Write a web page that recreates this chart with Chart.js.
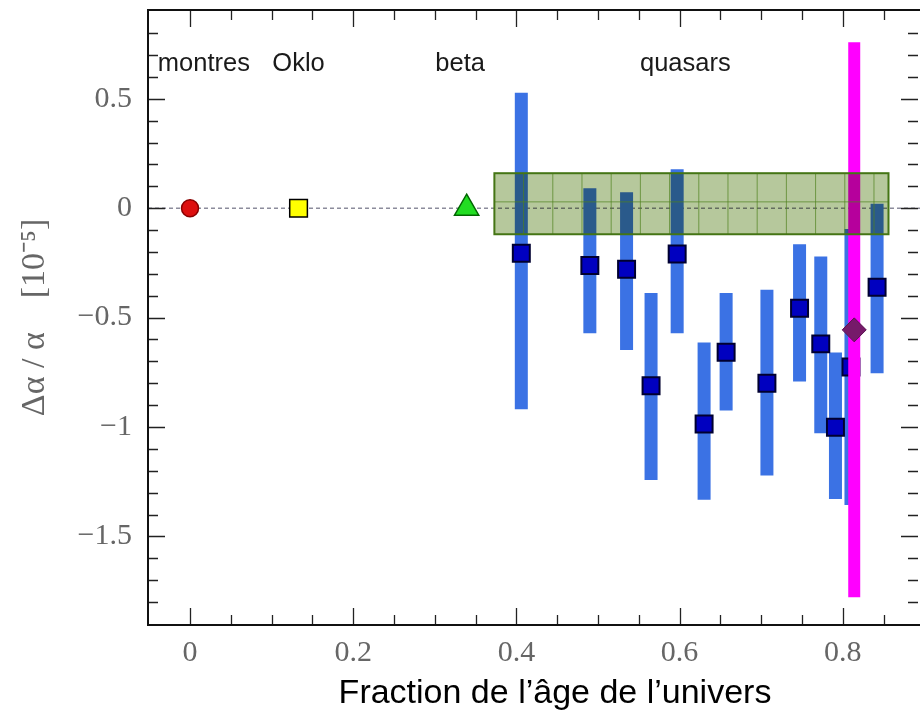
<!DOCTYPE html>
<html>
<head>
<meta charset="utf-8">
<script src="https://cdn.jsdelivr.net/npm/chart.js@4.4.1/dist/chart.umd.min.js"></script>
<style>
  html, body { margin: 0; padding: 0; background: #fff; }
</style>
</head>
<body>
<canvas id="chart" width="920" height="712"></canvas>
<script>
/* QUASARS: position, central value, error bar ends */
const quasarX = [0.406, 0.490, 0.535, 0.565, 0.597, 0.630, 0.657, 0.707, 0.747, 0.773, 0.791, 0.842];
const quasarY = [-0.206, -0.262, -0.279, -0.811, -0.209, -0.986, -0.658, -0.800, -0.457, -0.620, -1.001, -0.361];
const quasarHigh = [0.528, 0.091, 0.073, -0.388, 0.178, -0.614, -0.388, -0.373, -0.165, -0.221, -0.660, 0.020];
const quasarLow = [-0.919, -0.571, -0.648, -1.242, -0.571, -1.333, -0.925, -1.222, -0.792, -1.028, -1.329, -0.754];

/* quasar hidden behind the magenta bar */
const hiddenX = [0.810];
const hiddenY = [-0.726];
const hiddenHigh = [-0.095];
const hiddenLow = [-1.356];

/* magenta measurement */
const magentaX = [0.814];
const magentaY = [-0.556];
const magentaHigh = [0.759];
const magentaLow = [-1.778];

/* other methods, all at zero */
const clockX = [0];
const clockY = [0];
const okloX = [0.133];
const okloY = [0];
const betaX = [0.339];
const betaY = [0];

/* green band */
const bandX = [0.373, 0.856];
const bandY = [-0.119, 0.160];

/* texts */
const groupLabels = ["montres", "Oklo", "beta", "quasars"];
const groupLabelX = [0.017, 0.133, 0.331, 0.607];
const groupLabelY = 0.66;

const xTicks = [0, 0.2, 0.4, 0.6, 0.8];
const yTicks = [-1.5, -1, -0.5, 0, 0.5];
const xRange = [-0.0515, 0.8946];
const yRange = [-1.905, 0.906];

/* HELPERS */
const pts = (xs, ys) => xs.map((x, i) => ({ x, y: ys[i] }));
const barPts = (xs, lo, hi) =>
  xs.flatMap((x, i) => [{ x, y: lo[i] }, { x, y: hi[i] }, { x, y: null }]);
const minus = (v) => (v < 0 ? "\u2212" + Math.abs(v) : String(v));
const noPad = (s) => {
  s.paddingTop = 0;
  s.paddingBottom = 0;
  s.paddingLeft = 0;
  s.paddingRight = 0;
};

/* BAND: drawn right after the magenta bar */
const bandPlugin = {
  id: "band",
  afterDatasetDraw(chart, args) {
    if (chart.data.datasets[args.index].id !== "magentaBar") return;
    const { ctx } = chart;
    const xs = chart.scales.x, ys = chart.scales.y;
    const l = xs.getPixelForValue(bandX[0]);
    const r = xs.getPixelForValue(bandX[1]);
    const t = ys.getPixelForValue(bandY[1]);
    const b = ys.getPixelForValue(bandY[0]);
    ctx.save();
    ctx.globalCompositeOperation = "multiply";
    ctx.fillStyle = "#b6c89c";
    ctx.fillRect(l, t, r - l, b - t);
    ctx.globalCompositeOperation = "source-over";
    ctx.strokeStyle = "rgba(80,130,30,0.7)";
    ctx.lineWidth = 1;
    ctx.beginPath();
    for (let px = l + 29.2; px < r - 4; px += 29.2) {
      ctx.moveTo(px, t);
      ctx.lineTo(px, b);
    }
    const mid = ys.getPixelForValue(0.029);
    ctx.moveTo(l, mid);
    ctx.lineTo(r, mid);
    ctx.stroke();
    ctx.strokeStyle = "#447514";
    ctx.lineWidth = 2;
    ctx.strokeRect(l, t, r - l, b - t);
    ctx.restore();
  },
};

/* FRAME, TICKS, TEXTS */
const framePlugin = {
  id: "frame",
  afterDatasetsDraw(chart) {
    const { ctx, chartArea: a } = chart;
    const xs = chart.scales.x, ys = chart.scales.y;
    ctx.save();
    ctx.strokeStyle = "#222";
    ctx.lineWidth = 1.3;
    ctx.beginPath();
    for (let i = 0; i * 0.05 <= xRange[1] + 1e-9; i++) {
      const px = Math.round(xs.getPixelForValue(i * 0.05)) + 0.5;
      const len = i % 4 === 0 ? 17 : 10;
      ctx.moveTo(px, a.bottom);
      ctx.lineTo(px, a.bottom - len);
      ctx.moveTo(px, a.top);
      ctx.lineTo(px, a.top + len);
    }
    for (let i = -18; i <= 8; i++) {
      const py = Math.round(ys.getPixelForValue(i * 0.1)) + 0.5;
      const len = i % 5 === 0 ? 17 : 10;
      ctx.moveTo(a.left, py);
      ctx.lineTo(a.left + len, py);
      ctx.moveTo(a.right - 2, py);
      ctx.lineTo(a.right - 2 - len, py);
    }
    ctx.stroke();
    ctx.strokeStyle = "#111";
    ctx.lineWidth = 2;
    ctx.strokeRect(a.left, a.top, a.right - a.left + 2, a.bottom - a.top);

    ctx.fillStyle = "#1a1a1a";
    ctx.font = "25.5px 'Liberation Sans', Arial, sans-serif";
    ctx.textAlign = "center";
    ctx.textBaseline = "middle";
    groupLabels.forEach((t, i) => {
      ctx.fillText(t, xs.getPixelForValue(groupLabelX[i]), ys.getPixelForValue(groupLabelY));
    });

    ctx.fillStyle = "#000";
    ctx.font = "34px 'Liberation Sans', Arial, sans-serif";
    ctx.fillText("Fraction de l\u2019\u00e2ge de l\u2019univers", 555, 694);
    ctx.restore();
  },
};

new Chart(document.getElementById("chart"), {
  type: "line",
  data: {
    datasets: [
      {
        id: "quasarMarks",
        data: pts(quasarX, quasarY),
        showLine: false,
        pointStyle: "rect",
        pointRadius: 12,
        pointBackgroundColor: "#0000c0",
        pointBorderColor: "#000030",
        pointBorderWidth: 2,
        order: 1,
      },
      {
        id: "magentaMark",
        data: pts(magentaX, magentaY),
        showLine: false,
        pointStyle: "rectRot",
        pointRadius: 12,
        pointBackgroundColor: "#761a6a",
        pointBorderColor: "#5a1050",
        pointBorderWidth: 1,
        order: 1,
      },
      {
        id: "clock",
        data: pts(clockX, clockY),
        showLine: false,
        pointStyle: "circle",
        pointRadius: 8.5,
        pointBackgroundColor: "#dd0f0f",
        pointBorderColor: "#8a0000",
        pointBorderWidth: 1.5,
        order: 1,
      },
      {
        id: "oklo",
        data: pts(okloX, okloY),
        showLine: false,
        pointStyle: "rect",
        pointRadius: 12.5,
        pointBackgroundColor: "#ffff00",
        pointBorderColor: "#000",
        pointBorderWidth: 1.5,
        order: 1,
      },
      {
        id: "beta",
        data: pts(betaX, betaY),
        showLine: false,
        pointStyle: "triangle",
        pointRadius: 14,
        pointBackgroundColor: "#22dd22",
        pointBorderColor: "#006600",
        pointBorderWidth: 1.5,
        order: 1,
      },
      {
        id: "magentaBar",
        data: barPts(magentaX, magentaLow, magentaHigh),
        borderColor: "#ff00ff",
        borderWidth: 12,
        borderCapStyle: "butt",
        pointRadius: 0,
        spanGaps: false,
        order: 3,
      },
      {
        id: "hiddenMark",
        data: pts(hiddenX, hiddenY),
        showLine: false,
        pointStyle: "rect",
        pointRadius: 12,
        pointBackgroundColor: "#0000c0",
        pointBorderColor: "#000030",
        pointBorderWidth: 2,
        order: 4,
      },
      {
        id: "quasarBars",
        data: barPts(quasarX.concat(hiddenX), quasarLow.concat(hiddenLow), quasarHigh.concat(hiddenHigh)),
        borderColor: "#3b72e4",
        borderWidth: 13,
        borderCapStyle: "butt",
        pointRadius: 0,
        spanGaps: false,
        order: 5,
      },
      {
        id: "zeroLine",
        data: pts(xRange, [0, 0]),
        borderColor: "#8c8c9c",
        borderWidth: 1.5,
        borderDash: [4, 3],
        pointRadius: 0,
        order: 6,
      },
    ],
  },
  options: {
    responsive: false,
    animation: false,
    events: [],
    layout: { autoPadding: false, padding: { top: 10, right: 0, left: 0, bottom: 0 } },
    plugins: { legend: { display: false }, tooltip: { enabled: false } },
    scales: {
      x: {
        type: "linear",
        min: xRange[0],
        max: xRange[1],
        grid: { display: false, drawTicks: false },
        border: { display: false },
        afterBuildTicks: (s) => { s.ticks = xTicks.map((v) => ({ value: v })); },
        afterFit: (s) => { s.height = 87; noPad(s); },
        ticks: {
          padding: 10,
          color: "#666",
          font: { family: "'Liberation Serif', serif", size: 30 },
          callback: (v) => minus(v),
        },
      },
      y: {
        type: "linear",
        min: yRange[0],
        max: yRange[1],
        grid: { display: false, drawTicks: false },
        border: { display: false },
        afterBuildTicks: (s) => { s.ticks = yTicks.map((v) => ({ value: v })); },
        afterFit: (s) => { s.width = 148; noPad(s); },
        ticks: {
          padding: 16,
          color: "#666",
          font: { family: "'Liberation Serif', serif", size: 30 },
          callback: (v) => minus(v),
        },
        title: {
          display: true,
          text: "\u0394\u03b1 / \u03b1    [10\u207b\u2075]",
          color: "#666",
          font: { family: "'Liberation Serif', serif", size: 34 },
          padding: { top: 15, bottom: 0 },
        },
      },
    },
  },
  plugins: [bandPlugin, framePlugin],
});
</script>
</body>
</html>
